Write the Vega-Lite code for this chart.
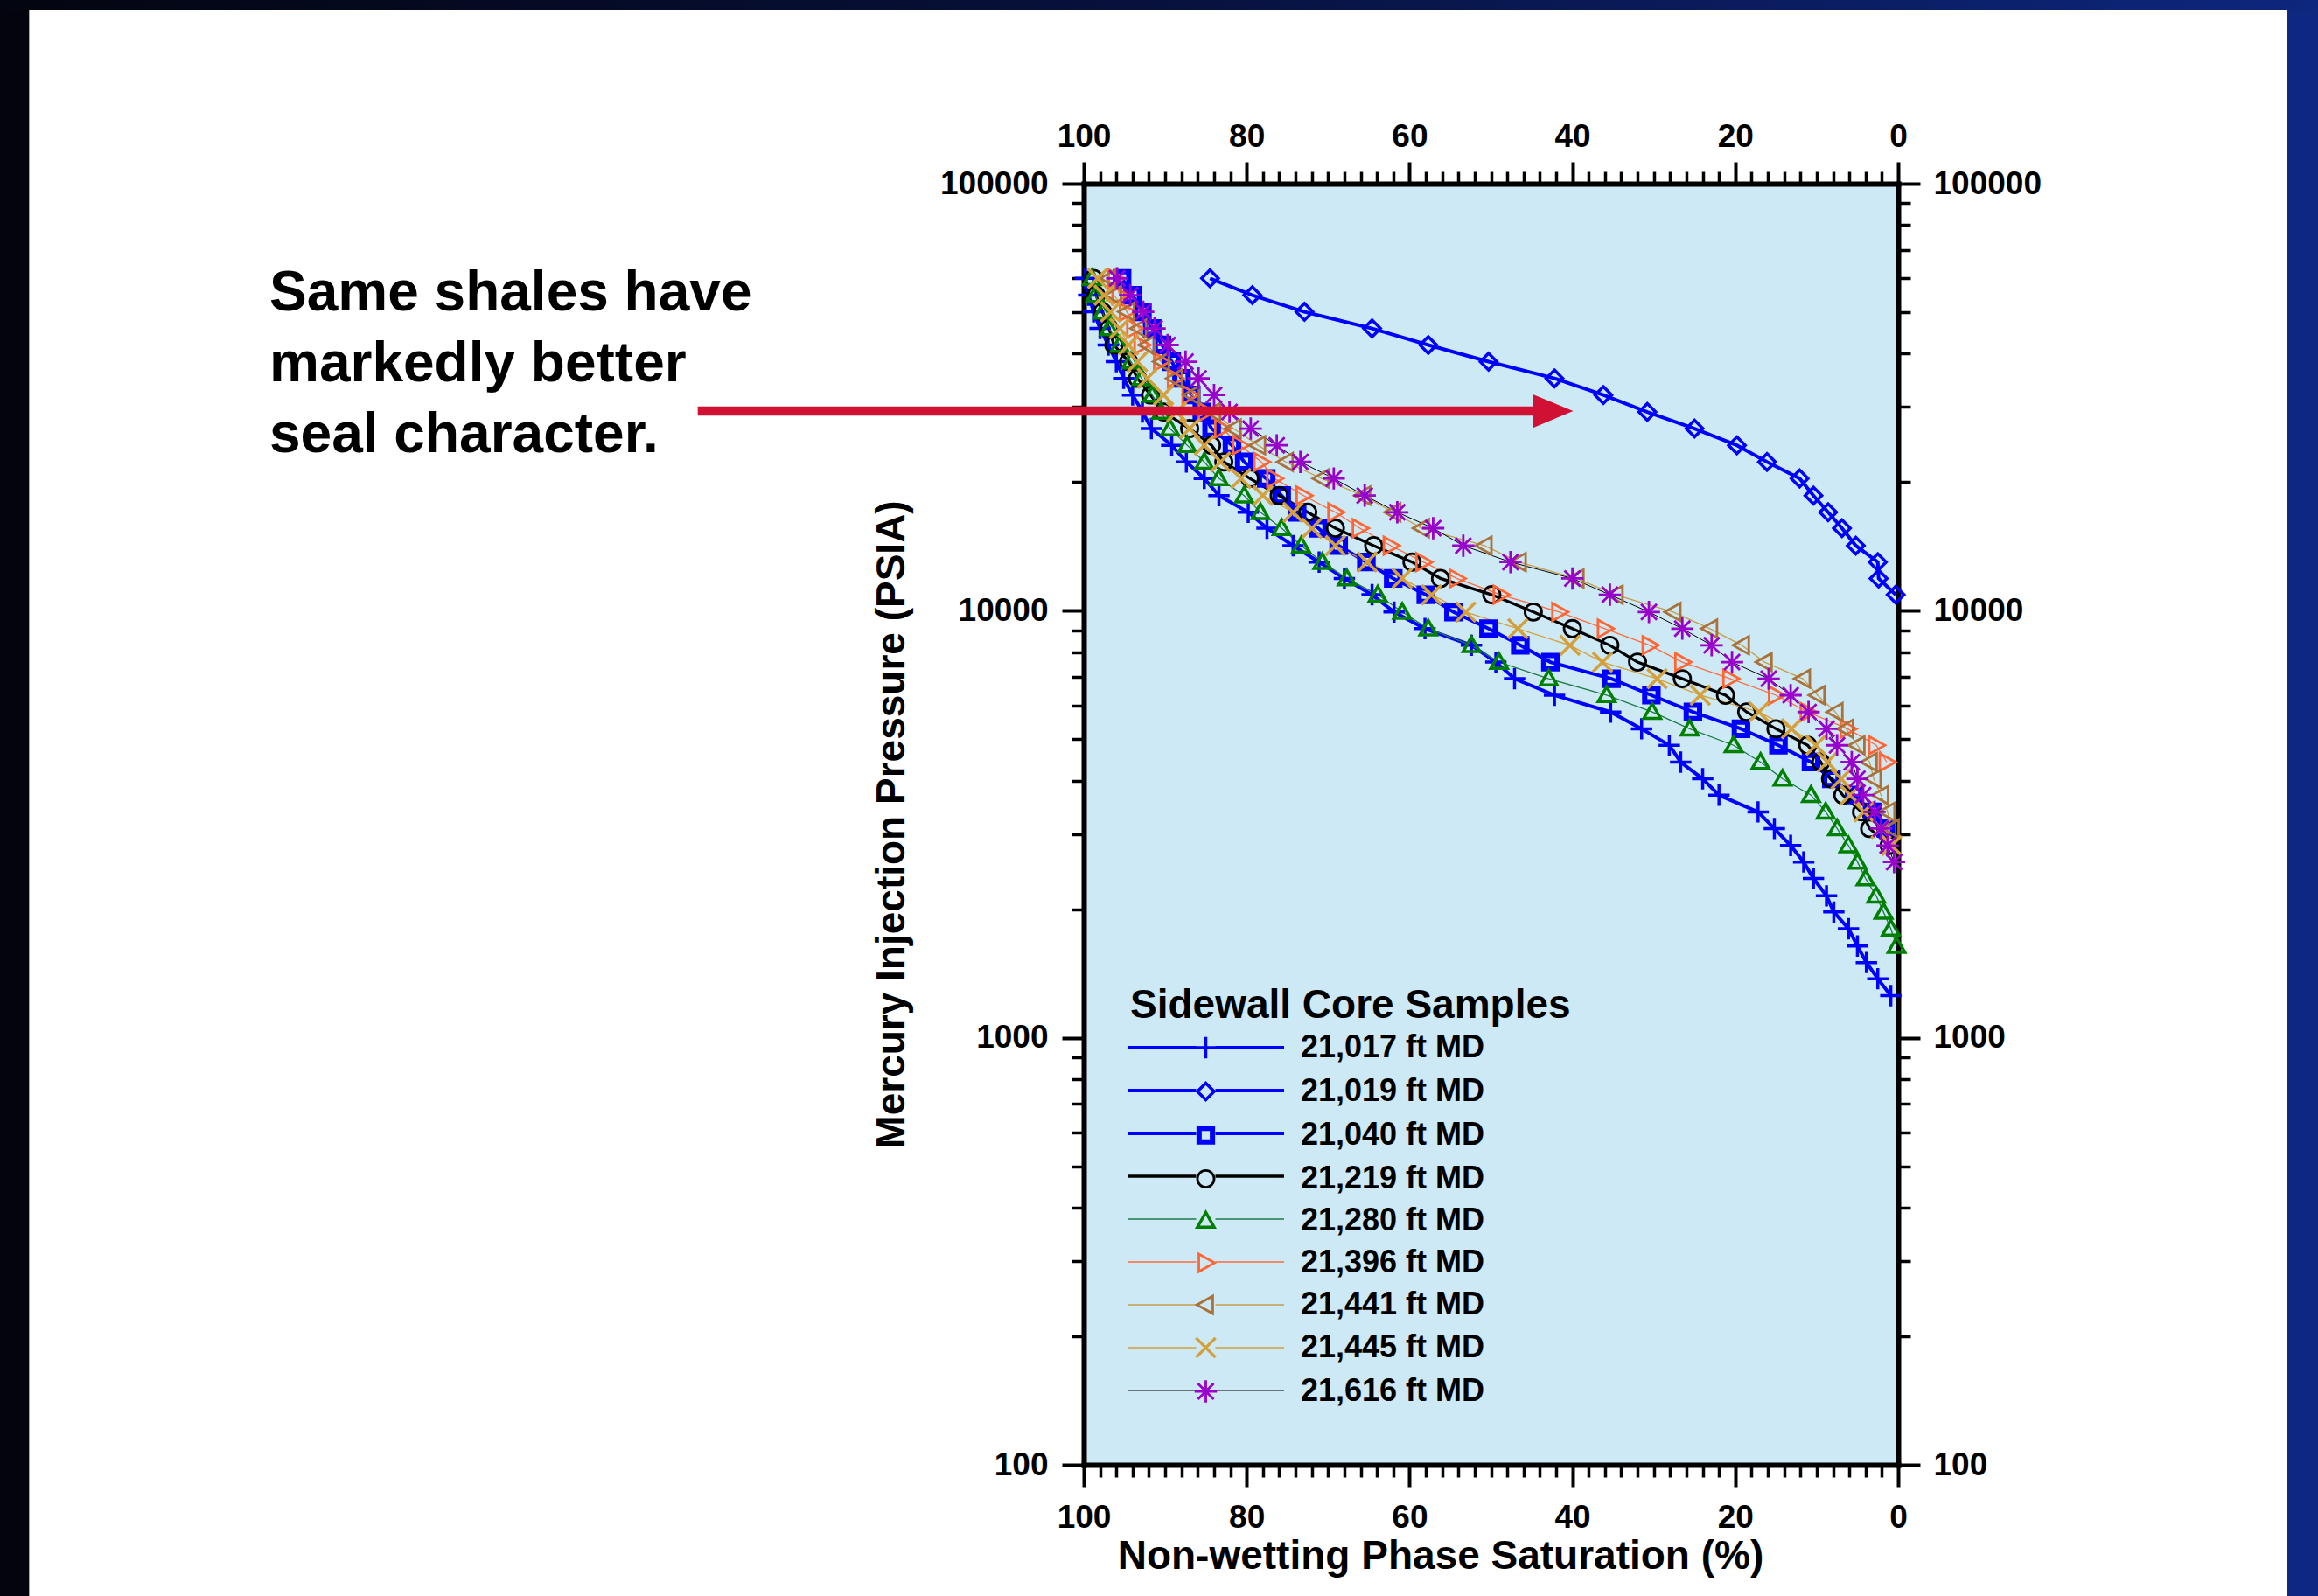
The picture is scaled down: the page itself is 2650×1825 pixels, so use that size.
{
"$schema": "https://vega.github.io/schema/vega-lite/v6.json",
"width": 931,
"height": 1465,
"autosize": {"type": "none"},
"padding": {"left": 1239, "top": 210, "right": 480, "bottom": 150},
"background": "white",
"config": {
  "view": {"fill": "#cde9f5", "stroke": null},
  "font": "Liberation Sans",
  "axis": {"domainColor": "black", "domainWidth": 6, "domainCap": "square", "tickColor": "black", "tickWidth": 4, "grid": false,
    "labelFont": "Liberation Sans", "labelFontSize": 37, "labelFontWeight": "bold", "labelColor": "black", "labelFlush": false, "labelOverlap": false,
    "titleFont": "Liberation Sans", "titleFontSize": 46, "titleFontWeight": "bold", "titleColor": "black"}
},
"data": {"values": [
{"sample":"21,017 ft MD","sat":99.8,"psia":60000},{"sample":"21,017 ft MD","sat":99.4,"psia":54800},{"sample":"21,017 ft MD","sat":98.8,"psia":50100},{"sample":"21,017 ft MD","sat":98.0,"psia":45800},{"sample":"21,017 ft MD","sat":97.0,"psia":41900},{"sample":"21,017 ft MD","sat":96.0,"psia":38300},{"sample":"21,017 ft MD","sat":95.1,"psia":35000},{"sample":"21,017 ft MD","sat":94.0,"psia":32000},{"sample":"21,017 ft MD","sat":92.8,"psia":29200},{"sample":"21,017 ft MD","sat":91.7,"psia":26700},{"sample":"21,017 ft MD","sat":89.2,"psia":24400},{"sample":"21,017 ft MD","sat":87.4,"psia":22300},{"sample":"21,017 ft MD","sat":85.2,"psia":20400},{"sample":"21,017 ft MD","sat":83.4,"psia":18600},{"sample":"21,017 ft MD","sat":79.8,"psia":17000},{"sample":"21,017 ft MD","sat":77.5,"psia":15600},{"sample":"21,017 ft MD","sat":74.3,"psia":14200},{"sample":"21,017 ft MD","sat":71.1,"psia":13000},{"sample":"21,017 ft MD","sat":68.0,"psia":11900},{"sample":"21,017 ft MD","sat":64.6,"psia":10900},{"sample":"21,017 ft MD","sat":61.9,"psia":9930},{"sample":"21,017 ft MD","sat":58.1,"psia":9080},{"sample":"21,017 ft MD","sat":52.4,"psia":8300},{"sample":"21,017 ft MD","sat":49.4,"psia":7580},{"sample":"21,017 ft MD","sat":47.1,"psia":6930},{"sample":"21,017 ft MD","sat":42.2,"psia":6340},{"sample":"21,017 ft MD","sat":35.3,"psia":5790},{"sample":"21,017 ft MD","sat":31.5,"psia":5290},{"sample":"21,017 ft MD","sat":28.1,"psia":4840},{"sample":"21,017 ft MD","sat":26.7,"psia":4420},{"sample":"21,017 ft MD","sat":24.0,"psia":4040},{"sample":"21,017 ft MD","sat":22.0,"psia":3700},{"sample":"21,017 ft MD","sat":17.2,"psia":3380},{"sample":"21,017 ft MD","sat":15.2,"psia":3090},{"sample":"21,017 ft MD","sat":13.2,"psia":2820},{"sample":"21,017 ft MD","sat":11.6,"psia":2580},{"sample":"21,017 ft MD","sat":10.4,"psia":2360},{"sample":"21,017 ft MD","sat":8.8,"psia":2150},{"sample":"21,017 ft MD","sat":7.9,"psia":1970},{"sample":"21,017 ft MD","sat":6.1,"psia":1800},{"sample":"21,017 ft MD","sat":5.0,"psia":1640},{"sample":"21,017 ft MD","sat":3.9,"psia":1500},{"sample":"21,017 ft MD","sat":2.5,"psia":1375},{"sample":"21,017 ft MD","sat":0.9,"psia":1255},
{"sample":"21,019 ft MD","sat":84.5,"psia":60000},{"sample":"21,019 ft MD","sat":79.3,"psia":54800},{"sample":"21,019 ft MD","sat":72.9,"psia":50100},{"sample":"21,019 ft MD","sat":64.6,"psia":45800},{"sample":"21,019 ft MD","sat":57.7,"psia":41900},{"sample":"21,019 ft MD","sat":50.3,"psia":38300},{"sample":"21,019 ft MD","sat":42.2,"psia":35000},{"sample":"21,019 ft MD","sat":36.2,"psia":32000},{"sample":"21,019 ft MD","sat":30.8,"psia":29200},{"sample":"21,019 ft MD","sat":25.0,"psia":26700},{"sample":"21,019 ft MD","sat":19.8,"psia":24400},{"sample":"21,019 ft MD","sat":16.1,"psia":22300},{"sample":"21,019 ft MD","sat":12.1,"psia":20400},{"sample":"21,019 ft MD","sat":10.4,"psia":18600},{"sample":"21,019 ft MD","sat":8.6,"psia":17000},{"sample":"21,019 ft MD","sat":6.9,"psia":15600},{"sample":"21,019 ft MD","sat":5.2,"psia":14200},{"sample":"21,019 ft MD","sat":2.5,"psia":13000},{"sample":"21,019 ft MD","sat":2.4,"psia":11900},{"sample":"21,019 ft MD","sat":0.3,"psia":10900},
{"sample":"21,040 ft MD","sat":95.3,"psia":60000},{"sample":"21,040 ft MD","sat":94.0,"psia":54800},{"sample":"21,040 ft MD","sat":92.8,"psia":50100},{"sample":"21,040 ft MD","sat":91.6,"psia":45800},{"sample":"21,040 ft MD","sat":90.4,"psia":41900},{"sample":"21,040 ft MD","sat":89.2,"psia":38300},{"sample":"21,040 ft MD","sat":88.0,"psia":35000},{"sample":"21,040 ft MD","sat":86.8,"psia":32000},{"sample":"21,040 ft MD","sat":85.5,"psia":29200},{"sample":"21,040 ft MD","sat":84.3,"psia":26700},{"sample":"21,040 ft MD","sat":81.8,"psia":24400},{"sample":"21,040 ft MD","sat":80.3,"psia":22300},{"sample":"21,040 ft MD","sat":77.6,"psia":20400},{"sample":"21,040 ft MD","sat":75.7,"psia":18600},{"sample":"21,040 ft MD","sat":73.8,"psia":17000},{"sample":"21,040 ft MD","sat":71.2,"psia":15600},{"sample":"21,040 ft MD","sat":68.7,"psia":14200},{"sample":"21,040 ft MD","sat":65.3,"psia":13000},{"sample":"21,040 ft MD","sat":62.0,"psia":11900},{"sample":"21,040 ft MD","sat":58.0,"psia":10900},{"sample":"21,040 ft MD","sat":54.6,"psia":9930},{"sample":"21,040 ft MD","sat":50.3,"psia":9080},{"sample":"21,040 ft MD","sat":46.4,"psia":8300},{"sample":"21,040 ft MD","sat":42.7,"psia":7580},{"sample":"21,040 ft MD","sat":35.2,"psia":6930},{"sample":"21,040 ft MD","sat":30.3,"psia":6340},{"sample":"21,040 ft MD","sat":25.2,"psia":5790},{"sample":"21,040 ft MD","sat":19.3,"psia":5290},{"sample":"21,040 ft MD","sat":14.7,"psia":4840},{"sample":"21,040 ft MD","sat":10.7,"psia":4420},{"sample":"21,040 ft MD","sat":8.2,"psia":4040},{"sample":"21,040 ft MD","sat":5.4,"psia":3700},{"sample":"21,040 ft MD","sat":3.2,"psia":3380},{"sample":"21,040 ft MD","sat":1.5,"psia":3090},
{"sample":"21,219 ft MD","sat":98.8,"psia":60000},{"sample":"21,219 ft MD","sat":98.5,"psia":54800},{"sample":"21,219 ft MD","sat":97.7,"psia":50100},{"sample":"21,219 ft MD","sat":96.9,"psia":45800},{"sample":"21,219 ft MD","sat":96.3,"psia":41900},{"sample":"21,219 ft MD","sat":94.5,"psia":38300},{"sample":"21,219 ft MD","sat":93.4,"psia":35000},{"sample":"21,219 ft MD","sat":91.8,"psia":32000},{"sample":"21,219 ft MD","sat":90.2,"psia":29200},{"sample":"21,219 ft MD","sat":87.0,"psia":26700},{"sample":"21,219 ft MD","sat":84.3,"psia":24400},{"sample":"21,219 ft MD","sat":82.8,"psia":22300},{"sample":"21,219 ft MD","sat":79.6,"psia":20400},{"sample":"21,219 ft MD","sat":76.0,"psia":18600},{"sample":"21,219 ft MD","sat":72.5,"psia":17000},{"sample":"21,219 ft MD","sat":69.1,"psia":15600},{"sample":"21,219 ft MD","sat":64.4,"psia":14200},{"sample":"21,219 ft MD","sat":59.7,"psia":13000},{"sample":"21,219 ft MD","sat":56.2,"psia":11900},{"sample":"21,219 ft MD","sat":49.9,"psia":10900},{"sample":"21,219 ft MD","sat":44.8,"psia":9930},{"sample":"21,219 ft MD","sat":40.0,"psia":9080},{"sample":"21,219 ft MD","sat":35.4,"psia":8300},{"sample":"21,219 ft MD","sat":32.0,"psia":7580},{"sample":"21,219 ft MD","sat":26.5,"psia":6930},{"sample":"21,219 ft MD","sat":21.2,"psia":6340},{"sample":"21,219 ft MD","sat":18.6,"psia":5790},{"sample":"21,219 ft MD","sat":15.0,"psia":5290},{"sample":"21,219 ft MD","sat":11.1,"psia":4840},{"sample":"21,219 ft MD","sat":9.5,"psia":4420},{"sample":"21,219 ft MD","sat":8.3,"psia":4040},{"sample":"21,219 ft MD","sat":6.8,"psia":3700},{"sample":"21,219 ft MD","sat":4.5,"psia":3380},{"sample":"21,219 ft MD","sat":3.5,"psia":3090},{"sample":"21,219 ft MD","sat":1.1,"psia":2820},
{"sample":"21,280 ft MD","sat":99.0,"psia":60000},{"sample":"21,280 ft MD","sat":98.6,"psia":54800},{"sample":"21,280 ft MD","sat":97.7,"psia":50100},{"sample":"21,280 ft MD","sat":96.9,"psia":45800},{"sample":"21,280 ft MD","sat":95.6,"psia":41900},{"sample":"21,280 ft MD","sat":94.2,"psia":38300},{"sample":"21,280 ft MD","sat":92.9,"psia":35000},{"sample":"21,280 ft MD","sat":91.6,"psia":32000},{"sample":"21,280 ft MD","sat":90.5,"psia":29200},{"sample":"21,280 ft MD","sat":89.4,"psia":26700},{"sample":"21,280 ft MD","sat":87.3,"psia":24400},{"sample":"21,280 ft MD","sat":85.2,"psia":22300},{"sample":"21,280 ft MD","sat":83.4,"psia":20400},{"sample":"21,280 ft MD","sat":80.3,"psia":18600},{"sample":"21,280 ft MD","sat":78.3,"psia":17000},{"sample":"21,280 ft MD","sat":75.7,"psia":15600},{"sample":"21,280 ft MD","sat":73.3,"psia":14200},{"sample":"21,280 ft MD","sat":70.7,"psia":13000},{"sample":"21,280 ft MD","sat":67.7,"psia":11900},{"sample":"21,280 ft MD","sat":63.9,"psia":10900},{"sample":"21,280 ft MD","sat":60.9,"psia":9930},{"sample":"21,280 ft MD","sat":57.7,"psia":9080},{"sample":"21,280 ft MD","sat":52.4,"psia":8300},{"sample":"21,280 ft MD","sat":49.0,"psia":7580},{"sample":"21,280 ft MD","sat":42.9,"psia":6930},{"sample":"21,280 ft MD","sat":35.8,"psia":6340},{"sample":"21,280 ft MD","sat":30.2,"psia":5790},{"sample":"21,280 ft MD","sat":25.6,"psia":5290},{"sample":"21,280 ft MD","sat":20.2,"psia":4840},{"sample":"21,280 ft MD","sat":16.9,"psia":4420},{"sample":"21,280 ft MD","sat":14.2,"psia":4040},{"sample":"21,280 ft MD","sat":10.7,"psia":3700},{"sample":"21,280 ft MD","sat":8.9,"psia":3380},{"sample":"21,280 ft MD","sat":7.5,"psia":3090},{"sample":"21,280 ft MD","sat":6.1,"psia":2820},{"sample":"21,280 ft MD","sat":5.0,"psia":2580},{"sample":"21,280 ft MD","sat":4.0,"psia":2360},{"sample":"21,280 ft MD","sat":2.7,"psia":2150},{"sample":"21,280 ft MD","sat":1.8,"psia":1970},{"sample":"21,280 ft MD","sat":0.9,"psia":1800},{"sample":"21,280 ft MD","sat":0.2,"psia":1640},
{"sample":"21,396 ft MD","sat":96.1,"psia":60000},{"sample":"21,396 ft MD","sat":95.6,"psia":54800},{"sample":"21,396 ft MD","sat":94.7,"psia":50100},{"sample":"21,396 ft MD","sat":93.8,"psia":45800},{"sample":"21,396 ft MD","sat":92.9,"psia":41900},{"sample":"21,396 ft MD","sat":90.5,"psia":38300},{"sample":"21,396 ft MD","sat":88.8,"psia":35000},{"sample":"21,396 ft MD","sat":87.0,"psia":32000},{"sample":"21,396 ft MD","sat":85.0,"psia":29200},{"sample":"21,396 ft MD","sat":83.0,"psia":26700},{"sample":"21,396 ft MD","sat":80.8,"psia":24400},{"sample":"21,396 ft MD","sat":78.2,"psia":22300},{"sample":"21,396 ft MD","sat":76.6,"psia":20400},{"sample":"21,396 ft MD","sat":73.0,"psia":18600},{"sample":"21,396 ft MD","sat":69.1,"psia":17000},{"sample":"21,396 ft MD","sat":66.1,"psia":15600},{"sample":"21,396 ft MD","sat":62.3,"psia":14200},{"sample":"21,396 ft MD","sat":58.3,"psia":13000},{"sample":"21,396 ft MD","sat":54.2,"psia":11900},{"sample":"21,396 ft MD","sat":48.8,"psia":10900},{"sample":"21,396 ft MD","sat":41.6,"psia":9930},{"sample":"21,396 ft MD","sat":36.0,"psia":9080},{"sample":"21,396 ft MD","sat":30.5,"psia":8300},{"sample":"21,396 ft MD","sat":26.5,"psia":7580},{"sample":"21,396 ft MD","sat":20.6,"psia":6930},{"sample":"21,396 ft MD","sat":15.0,"psia":6340},{"sample":"21,396 ft MD","sat":11.1,"psia":5790},{"sample":"21,396 ft MD","sat":6.2,"psia":5290},{"sample":"21,396 ft MD","sat":2.7,"psia":4840},{"sample":"21,396 ft MD","sat":1.4,"psia":4420},
{"sample":"21,441 ft MD","sat":96.9,"psia":60000},{"sample":"21,441 ft MD","sat":96.3,"psia":54800},{"sample":"21,441 ft MD","sat":94.7,"psia":50100},{"sample":"21,441 ft MD","sat":93.2,"psia":45800},{"sample":"21,441 ft MD","sat":92.2,"psia":41900},{"sample":"21,441 ft MD","sat":90.4,"psia":38300},{"sample":"21,441 ft MD","sat":88.8,"psia":35000},{"sample":"21,441 ft MD","sat":86.7,"psia":32000},{"sample":"21,441 ft MD","sat":84.1,"psia":29200},{"sample":"21,441 ft MD","sat":81.6,"psia":26700},{"sample":"21,441 ft MD","sat":78.6,"psia":24400},{"sample":"21,441 ft MD","sat":75.2,"psia":22300},{"sample":"21,441 ft MD","sat":70.8,"psia":20400},{"sample":"21,441 ft MD","sat":65.7,"psia":18600},{"sample":"21,441 ft MD","sat":62.0,"psia":17000},{"sample":"21,441 ft MD","sat":58.5,"psia":15600},{"sample":"21,441 ft MD","sat":50.8,"psia":14200},{"sample":"21,441 ft MD","sat":46.6,"psia":13000},{"sample":"21,441 ft MD","sat":39.5,"psia":11900},{"sample":"21,441 ft MD","sat":34.7,"psia":10900},{"sample":"21,441 ft MD","sat":27.6,"psia":9930},{"sample":"21,441 ft MD","sat":23.1,"psia":9080},{"sample":"21,441 ft MD","sat":19.2,"psia":8300},{"sample":"21,441 ft MD","sat":16.4,"psia":7580},{"sample":"21,441 ft MD","sat":11.7,"psia":6930},{"sample":"21,441 ft MD","sat":9.9,"psia":6340},{"sample":"21,441 ft MD","sat":7.7,"psia":5790},{"sample":"21,441 ft MD","sat":6.4,"psia":5290},{"sample":"21,441 ft MD","sat":5.0,"psia":4840},{"sample":"21,441 ft MD","sat":3.5,"psia":4420},{"sample":"21,441 ft MD","sat":3.0,"psia":4040},{"sample":"21,441 ft MD","sat":2.1,"psia":3700},{"sample":"21,441 ft MD","sat":1.3,"psia":3380},{"sample":"21,441 ft MD","sat":0.8,"psia":3090},
{"sample":"21,445 ft MD","sat":98.3,"psia":60000},{"sample":"21,445 ft MD","sat":97.5,"psia":54800},{"sample":"21,445 ft MD","sat":96.7,"psia":50100},{"sample":"21,445 ft MD","sat":95.6,"psia":45800},{"sample":"21,445 ft MD","sat":94.5,"psia":41900},{"sample":"21,445 ft MD","sat":93.4,"psia":38300},{"sample":"21,445 ft MD","sat":92.2,"psia":35000},{"sample":"21,445 ft MD","sat":90.2,"psia":32000},{"sample":"21,445 ft MD","sat":88.6,"psia":29200},{"sample":"21,445 ft MD","sat":87.0,"psia":26700},{"sample":"21,445 ft MD","sat":85.2,"psia":24400},{"sample":"21,445 ft MD","sat":83.2,"psia":22300},{"sample":"21,445 ft MD","sat":80.7,"psia":20400},{"sample":"21,445 ft MD","sat":78.0,"psia":18600},{"sample":"21,445 ft MD","sat":74.3,"psia":17000},{"sample":"21,445 ft MD","sat":72.0,"psia":15600},{"sample":"21,445 ft MD","sat":69.1,"psia":14200},{"sample":"21,445 ft MD","sat":65.2,"psia":13000},{"sample":"21,445 ft MD","sat":60.9,"psia":11900},{"sample":"21,445 ft MD","sat":57.3,"psia":10900},{"sample":"21,445 ft MD","sat":53.1,"psia":9930},{"sample":"21,445 ft MD","sat":46.7,"psia":9080},{"sample":"21,445 ft MD","sat":40.3,"psia":8300},{"sample":"21,445 ft MD","sat":36.3,"psia":7580},{"sample":"21,445 ft MD","sat":29.6,"psia":6930},{"sample":"21,445 ft MD","sat":24.3,"psia":6340},{"sample":"21,445 ft MD","sat":17.1,"psia":5790},{"sample":"21,445 ft MD","sat":13.1,"psia":5290},{"sample":"21,445 ft MD","sat":10.1,"psia":4840},{"sample":"21,445 ft MD","sat":8.7,"psia":4420},{"sample":"21,445 ft MD","sat":7.0,"psia":4040},{"sample":"21,445 ft MD","sat":5.9,"psia":3700},{"sample":"21,445 ft MD","sat":4.2,"psia":3380},{"sample":"21,445 ft MD","sat":2.1,"psia":3090},{"sample":"21,445 ft MD","sat":0.8,"psia":2820},
{"sample":"21,616 ft MD","sat":95.9,"psia":60000},{"sample":"21,616 ft MD","sat":94.3,"psia":54800},{"sample":"21,616 ft MD","sat":92.7,"psia":50100},{"sample":"21,616 ft MD","sat":91.3,"psia":45800},{"sample":"21,616 ft MD","sat":89.7,"psia":41900},{"sample":"21,616 ft MD","sat":87.5,"psia":38300},{"sample":"21,616 ft MD","sat":85.9,"psia":35000},{"sample":"21,616 ft MD","sat":84.0,"psia":32000},{"sample":"21,616 ft MD","sat":82.1,"psia":29200},{"sample":"21,616 ft MD","sat":79.5,"psia":26700},{"sample":"21,616 ft MD","sat":76.3,"psia":24400},{"sample":"21,616 ft MD","sat":73.4,"psia":22300},{"sample":"21,616 ft MD","sat":69.3,"psia":20400},{"sample":"21,616 ft MD","sat":65.5,"psia":18600},{"sample":"21,616 ft MD","sat":61.5,"psia":17000},{"sample":"21,616 ft MD","sat":57.1,"psia":15600},{"sample":"21,616 ft MD","sat":53.4,"psia":14200},{"sample":"21,616 ft MD","sat":47.6,"psia":13000},{"sample":"21,616 ft MD","sat":40.0,"psia":11900},{"sample":"21,616 ft MD","sat":35.4,"psia":10900},{"sample":"21,616 ft MD","sat":30.6,"psia":9930},{"sample":"21,616 ft MD","sat":26.5,"psia":9080},{"sample":"21,616 ft MD","sat":22.9,"psia":8300},{"sample":"21,616 ft MD","sat":20.4,"psia":7580},{"sample":"21,616 ft MD","sat":15.9,"psia":6930},{"sample":"21,616 ft MD","sat":13.2,"psia":6340},{"sample":"21,616 ft MD","sat":11.0,"psia":5790},{"sample":"21,616 ft MD","sat":8.8,"psia":5290},{"sample":"21,616 ft MD","sat":7.5,"psia":4840},{"sample":"21,616 ft MD","sat":5.7,"psia":4420},{"sample":"21,616 ft MD","sat":5.0,"psia":4040},{"sample":"21,616 ft MD","sat":4.3,"psia":3700},{"sample":"21,616 ft MD","sat":2.9,"psia":3380},{"sample":"21,616 ft MD","sat":2.1,"psia":3090},{"sample":"21,616 ft MD","sat":1.3,"psia":2820},{"sample":"21,616 ft MD","sat":0.5,"psia":2580}
]},
"resolve": {"axis": {"x": "independent", "y": "independent"}},
"layer": [
  {
    "data": {"values": [{}]},
    "mark": {"type": "rect", "fill": "#03040d", "stroke": null},
    "encoding": {
      "x": {"datum": 245, "type": "quantitative", "scale": {"type": "linear", "domain": [0, 100], "reverse": true, "nice": false, "zero": false}, "axis": null},
      "x2": {"datum": 229.5},
      "y": {"datum": 20, "type": "quantitative", "scale": {"type": "log", "domain": [100, 100000], "nice": false}, "axis": null},
      "y2": {"datum": 500000}
    }
  },
  {
    "data": {"values": [{}]},
    "mark": {"type": "rect", "fill": "#0e2882", "stroke": null},
    "encoding": {
      "x": {"datum": -47.8, "type": "quantitative", "scale": {"type": "linear", "domain": [0, 100], "reverse": true, "nice": false, "zero": false}, "axis": null},
      "x2": {"datum": -60},
      "y": {"datum": 20, "type": "quantitative", "scale": {"type": "log", "domain": [100, 100000], "nice": false}, "axis": null},
      "y2": {"datum": 500000}
    }
  },
  {
    "data": {"values": [{}]},
    "mark": {"type": "rect", "stroke": null, "fill": {"gradient": "linear", "x1": 0, "x2": 1, "y1": 0, "y2": 0, "stops": [{"offset": 0, "color": "#03040c"}, {"offset": 0.5, "color": "#07113c"}, {"offset": 1, "color": "#0e2882"}]}},
    "encoding": {
      "x": {"datum": 245, "type": "quantitative", "scale": {"type": "linear", "domain": [0, 100], "reverse": true, "nice": false, "zero": false}, "axis": null},
      "x2": {"datum": -60},
      "y": {"datum": 255600, "type": "quantitative", "scale": {"type": "log", "domain": [100, 100000], "nice": false}, "axis": null},
      "y2": {"datum": 500000}
    }
  },
  {
    "mark": {"type": "line", "strokeCap": "butt"},
    "encoding": {
      "x": {"field": "sat", "type": "quantitative", "scale": {"type": "linear", "domain": [0, 100], "reverse": true, "nice": false, "zero": false},
        "axis": {"orient": "bottom", "values": [0, 20, 40, 60, 80, 100], "format": "d", "tickSize": 25, "labelPadding": 17, "domain": true,
          "title": "Non-wetting Phase Saturation (%)", "titleX": 407.5, "titleY": 118, "titleBaseline": "alphabetic", "titleAlign": "center"}},
      "y": {"field": "psia", "type": "quantitative", "scale": {"type": "log", "domain": [100, 100000], "nice": false},
        "axis": {"orient": "left", "values": [100, 1000, 10000, 100000], "format": "d", "tickSize": 25, "labelPadding": 16, "domain": true,
          "title": "Mercury Injection Pressure (PSIA)", "titleX": -206, "titleBaseline": "alphabetic"}},
      "order": {"field": "psia", "type": "quantitative", "sort": "descending"},
      "color": {"field": "sample", "type": "nominal",
        "scale": {"domain": ["21,017 ft MD", "21,019 ft MD", "21,040 ft MD", "21,219 ft MD", "21,280 ft MD", "21,396 ft MD", "21,441 ft MD", "21,445 ft MD", "21,616 ft MD"],
                  "range": ["#0000ff", "#0000ff", "#0000ff", "#000000", "#1e7a46", "#ff6a3d", "#c89c48", "#d4a03c", "#000000"]},
        "legend": {"orient": "none", "legendX": 53, "legendY": 918, "padding": 0, "title": "Sidewall Core Samples",
          "titleFont": "Liberation Sans", "titleFontSize": 46, "titleFontWeight": "bold", "titleColor": "black", "titlePadding": 6, "titleLimit": 1000, "titleOpacity": 0,
          "labelFont": "Liberation Sans", "labelFontSize": 36, "labelFontWeight": "bold", "labelColor": "black", "labelLimit": 1000, "labelOpacity": 0,
          "labelOffset": 90.5, "symbolOffset": 68.5, "symbolSize": 400, "rowPadding": 13,
          "symbolType": "M-8.95,0H-1.1M1.1,0H8.95", "symbolFillColor": "transparent",
          "encode": {"symbols": {"update": {"strokeWidth": {"signal": "indexof(['21,017 ft MD','21,019 ft MD','21,040 ft MD'], datum.value) >= 0 ? 4 : datum.value == '21,219 ft MD' ? 3.3 : datum.value == '21,616 ft MD' ? 1 : 1.3"}, "fill": {"value": "transparent"}}}}}},
      "strokeWidth": {"condition": [
          {"test": "indexof(['21,017 ft MD','21,019 ft MD','21,040 ft MD'], datum.sample) >= 0", "value": 4},
          {"test": "datum.sample == '21,219 ft MD'", "value": 3.3},
          {"test": "datum.sample == '21,616 ft MD'", "value": 1}
        ], "value": 1.3}
    }
  },
  {
    "mark": {"type": "point", "filled": false, "size": 450, "opacity": 1},
    "encoding": {
      "x": {"field": "sat", "type": "quantitative", "scale": {"type": "linear", "domain": [0, 100], "reverse": true, "nice": false, "zero": false},
        "axis": {"orient": "top", "values": [0, 20, 40, 60, 80, 100], "format": "d", "tickSize": 25, "labelPadding": 10, "domain": true, "title": null}},
      "y": {"field": "psia", "type": "quantitative", "scale": {"type": "log", "domain": [100, 100000], "nice": false},
        "axis": {"orient": "right", "values": [100, 1000, 10000, 100000], "format": "d", "tickSize": 25, "labelPadding": 15, "domain": true, "title": null}},
      "shape": {"field": "sample", "type": "nominal",
        "scale": {"range": [
          "M-1.15,0H1.15M0,-1.15V1.15",
          "M0,-0.9L0.9,0L0,0.9L-0.9,0Z",
          "M-0.72,-0.72H0.72V0.72H-0.72Z",
          "M-0.9,0A0.9,0.9,0,1,1,0.9,0A0.9,0.9,0,1,1,-0.9,0Z",
          "M0,-0.9L0.9,0.68L-0.9,0.68Z",
          "M-0.75,-0.95L0.95,0L-0.75,0.95Z",
          "M0.75,-0.95L-0.95,0L0.75,0.95Z",
          "M-1.05,-1.05L1.05,1.05M-1.05,1.05L1.05,-1.05",
          "M-1.2,0H1.2M0,-1.2V1.2M-0.85,-0.85L0.85,0.85M-0.85,0.85L0.85,-0.85"
        ]},
        "legend": {"orient": "none", "legendX": 53, "legendY": 918, "padding": 0, "title": "Sidewall Core Samples",
          "titleFont": "Liberation Sans", "titleFontSize": 46, "titleFontWeight": "bold", "titleColor": "black", "titlePadding": 6, "titleLimit": 1000,
          "labelFont": "Liberation Sans", "labelFontSize": 36, "labelFontWeight": "bold", "labelColor": "black", "labelLimit": 1000,
          "labelOffset": 90.5, "symbolOffset": 68.5, "symbolSize": 450, "rowPadding": 12, "symbolFillColor": "transparent",
          "symbolStrokeWidth": {"expr": "datum.value == '21,040 ft MD' ? 6 : indexof(['21,017 ft MD','21,019 ft MD','21,280 ft MD','21,445 ft MD'], datum.value) >= 0 ? 3.5 : 2.8"}}},
      "stroke": {"field": "sample", "type": "nominal",
        "scale": {"range": ["#0000ff", "#0000ff", "#0000ff", "#000000", "#008000", "#ff6633", "#a8723a", "#d4a03c", "#9900cc"]},
        "legend": {"orient": "none", "legendX": 53, "legendY": 918, "padding": 0, "title": "Sidewall Core Samples",
          "titleFont": "Liberation Sans", "titleFontSize": 46, "titleFontWeight": "bold", "titleColor": "black", "titlePadding": 6, "titleLimit": 1000,
          "labelFont": "Liberation Sans", "labelFontSize": 36, "labelFontWeight": "bold", "labelColor": "black", "labelLimit": 1000,
          "labelOffset": 90.5, "symbolOffset": 68.5, "symbolSize": 450, "rowPadding": 12, "symbolFillColor": "transparent",
          "symbolStrokeWidth": {"expr": "datum.value == '21,040 ft MD' ? 6 : indexof(['21,017 ft MD','21,019 ft MD','21,280 ft MD','21,445 ft MD'], datum.value) >= 0 ? 3.5 : 2.8"}}},
      "strokeWidth": {"condition": [
          {"test": "datum.sample == '21,040 ft MD'", "value": 6},
          {"test": "indexof(['21,017 ft MD','21,019 ft MD','21,280 ft MD','21,445 ft MD'], datum.sample) >= 0", "value": 3.5}
        ], "value": 2.8}
    }
  },
  {
    "data": {"values": [{}]},
    "mark": {"type": "rule", "color": "#d11134", "strokeWidth": 10.5, "strokeCap": "butt"},
    "encoding": {
      "x": {"datum": 147.4, "type": "quantitative", "scale": {"type": "linear", "domain": [0, 100], "reverse": true, "nice": false, "zero": false},
        "axis": {"orient": "bottom", "values": [2,4,6,8,10,12,14,16,18,22,24,26,28,30,32,34,36,38,42,44,46,48,50,52,54,56,58,62,64,66,68,70,72,74,76,78,82,84,86,88,90,92,94,96,98], "tickSize": 14, "tickWidth": 3.5, "labels": false, "domain": false, "title": null}},
      "x2": {"datum": 44.5},
      "y": {"datum": 29340, "type": "quantitative", "scale": {"type": "log", "domain": [100, 100000], "nice": false},
        "axis": {"orient": "left", "values": [200,300,400,500,600,700,800,900,2000,3000,4000,5000,6000,7000,8000,9000,20000,30000,40000,50000,60000,70000,80000,90000], "tickSize": 14, "tickWidth": 3.5, "labels": false, "domain": false, "title": null}}
    }
  },
  {
    "data": {"values": [{}]},
    "mark": {"type": "point", "shape": "M-1,-0.83L1,0L-1,0.83Z", "size": 2116, "filled": true, "fill": "#d11134", "strokeWidth": 0, "opacity": 1},
    "encoding": {
      "x": {"datum": 42.37, "type": "quantitative", "scale": {"type": "linear", "domain": [0, 100], "reverse": true, "nice": false, "zero": false},
        "axis": {"orient": "top", "values": [2,4,6,8,10,12,14,16,18,22,24,26,28,30,32,34,36,38,42,44,46,48,50,52,54,56,58,62,64,66,68,70,72,74,76,78,82,84,86,88,90,92,94,96,98], "tickSize": 14, "tickWidth": 3.5, "labels": false, "domain": false, "title": null}},
      "y": {"datum": 29340, "type": "quantitative", "scale": {"type": "log", "domain": [100, 100000], "nice": false},
        "axis": {"orient": "right", "values": [200,300,400,500,600,700,800,900,2000,3000,4000,5000,6000,7000,8000,9000,20000,30000,40000,50000,60000,70000,80000,90000], "tickSize": 14, "tickWidth": 3.5, "labels": false, "domain": false, "title": null}}
    }
  },
  {
    "data": {"values": [{}]},
    "mark": {"type": "text", "text": ["Same shales have", "markedly better", "seal character."], "lineHeight": 81, "align": "left", "baseline": "alphabetic", "font": "Liberation Sans", "fontSize": 64, "fontWeight": "bold", "color": "black"},
    "encoding": {
      "x": {"datum": 200, "type": "quantitative", "scale": {"type": "linear", "domain": [0, 100], "reverse": true, "nice": false, "zero": false}, "axis": null},
      "y": {"datum": 50500, "type": "quantitative", "scale": {"type": "log", "domain": [100, 100000], "nice": false}, "axis": null}
    }
  }
]
}
